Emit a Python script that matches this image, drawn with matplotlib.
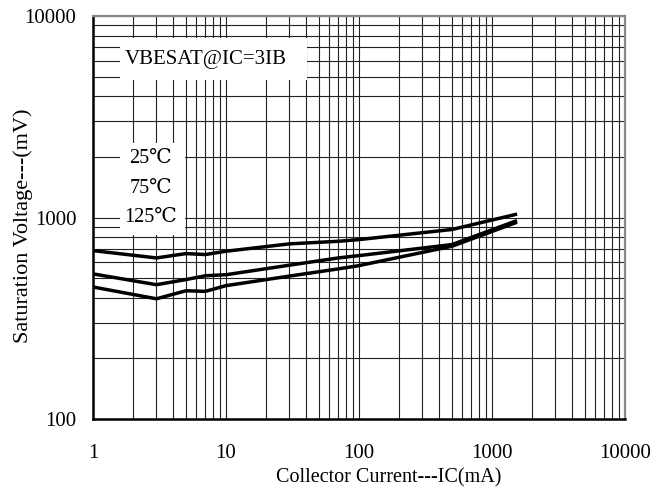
import matplotlib.pyplot as plt
from matplotlib.patches import Rectangle
from matplotlib.ticker import FixedLocator, LogLocator, NullFormatter

plt.rcParams['font.family'] = ['Liberation Serif', 'DejaVu Serif', 'DejaVu Sans']

# Data (IC in mA, VBE(sat) in mV)
ic = [1, 3, 5, 7, 10, 30, 70, 100, 500, 1500]
vbe_25 = [685, 630, 662, 655, 680, 740, 762, 777, 872, 1035]
vbe_75 = [525, 464, 492, 514, 520, 580, 630, 647, 734, 959]
vbe_125 = [452, 395, 433, 430, 459, 512, 556, 577, 720, 941]

x_ticks = [1, 10, 100, 1000, 10000]
y_ticks = [100, 1000, 10000]

fig = plt.figure(figsize=(6.53, 4.88), dpi=100)
ax = fig.add_axes([0.1424, 0.1414, 0.8147, 0.8258])

for v in (vbe_25, vbe_75, vbe_125):
    ax.plot(ic, v, color="black", linewidth=2.5, solid_joinstyle="miter", zorder=3)

ax.set_xscale("log")
ax.set_yscale("log")
ax.set_xlim(1, 10000)
ax.set_ylim(100, 10000)

ax.xaxis.set_major_locator(FixedLocator(x_ticks))
ax.yaxis.set_major_locator(FixedLocator(y_ticks))
ax.set_xticklabels([str(t) for t in x_ticks])
ax.set_yticklabels([str(t) for t in y_ticks])
ax.xaxis.set_minor_locator(LogLocator(base=10, subs=range(2, 10)))
ax.yaxis.set_minor_locator(LogLocator(base=10, subs=range(2, 10)))
ax.xaxis.set_minor_formatter(NullFormatter())
ax.yaxis.set_minor_formatter(NullFormatter())
ax.tick_params(which="both", length=0, labelsize=15)
ax.tick_params(axis="x", pad=18)
ax.tick_params(axis="y", pad=12)

ax.grid(which="both", color="#222222", linewidth=0.8)

for side in ("left", "bottom"):
    ax.spines[side].set_linewidth(1.8)
for side in ("top", "right"):
    ax.spines[side].set_linewidth(1.6)
    ax.spines[side].set_color("#888888")

ax.set_xlabel("Collector Current---IC(mA)", fontsize=14.5)
ax.set_ylabel("Saturation Voltage---(mV)", fontsize=16)
ax.xaxis.set_label_coords(0.556, -0.122)
ax.yaxis.set_label_coords(-0.113, 0.48)

# white boxes behind the annotations
ax.add_patch(Rectangle((0.051, 0.841), 0.351, 0.104, transform=ax.transAxes,
                       facecolor="white", edgecolor="none", zorder=4))
ax.add_patch(Rectangle((0.051, 0.457), 0.122, 0.228, transform=ax.transAxes,
                       facecolor="white", edgecolor="none", zorder=4))

ax.text(0.212, 0.893, "VBESAT@IC=3IB", transform=ax.transAxes, fontsize=15,
        ha="center", va="center", zorder=5)
ax.text(0.108, 0.573, "25℃\n75℃\n125℃", transform=ax.transAxes, fontsize=14.5,
        ha="center", va="center", linespacing=1.75, zorder=5)

fig.savefig("out.png", dpi=100)
